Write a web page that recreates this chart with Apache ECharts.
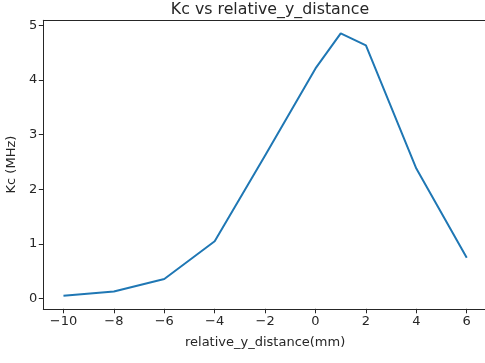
<!DOCTYPE html>
<html>
<head>
<meta charset="utf-8">
<script src="https://cdn.jsdelivr.net/npm/echarts@6/dist/echarts.min.js"></script>
<style>
  html, body { margin: 0; padding: 0; background: #fff; }
  #chart { width: 485px; height: 363px; }
</style>
</head>
<body>
<div id="chart"></div>
<script>
// Coupling Kc measured against relative y offset
const distances = [-10, -8, -6, -4, -2, 0, 1, 2, 4, 6];
const kcValues = [0.055, 0.13, 0.36, 1.05, 2.62, 4.21, 4.85, 4.63, 2.38, 0.75];
const xTicks = [-10, -8, -6, -4, -2, 0, 2, 4, 6];
const yTicks = [0, 1, 2, 3, 4, 5];

const font = 'DejaVu Sans';
const ink = '#262626';
const chart = echarts.init(document.getElementById('chart'), null, { renderer: 'canvas' });

const xRange = { min: -10.8, max: 6.8 };

chart.setOption({
  animation: false,
  backgroundColor: '#fff',
  title: {
    text: 'Kc vs relative_y_distance',
    left: 265,
    top: -3,
    textAlign: 'center',
    textStyle: { fontFamily: font, fontSize: 15.8, fontWeight: 'normal', color: ink }
  },
  grid: {
    left: 43.3, right: -1.9, top: 20.3, bottom: 54.2,
    containLabel: false,
    outerBoundsMode: 'none',
    show: false
  },
  xAxis: [{
    type: 'value',
    min: xRange.min, max: xRange.max,
    name: 'relative_y_distance(mm)',
    nameLocation: 'middle',
    nameGap: 27,
    nameTextStyle: { fontFamily: font, fontSize: 13, color: ink },
    axisLine: { show: true, onZero: false, lineStyle: { color: ink, width: 1 } },
    axisTick: { show: true, customValues: xTicks, length: 4.5, lineStyle: { color: ink } },
    axisLabel: {
      customValues: xTicks, fontFamily: font, fontSize: 13, color: ink, margin: 6,
      formatter: v => (v < 0 ? '\u2212' + Math.abs(v) : String(v))
    },
    splitLine: { show: false }
  }, {
    // top spine of the frame
    type: 'value',
    position: 'top',
    min: xRange.min, max: xRange.max,
    axisLine: { show: true, onZero: false, lineStyle: { color: ink, width: 1 } },
    axisTick: { show: false },
    axisLabel: { show: false },
    splitLine: { show: false }
  }],
  yAxis: {
    type: 'value',
    min: -0.185, max: 5.09,
    name: 'Kc (MHz)',
    nameLocation: 'middle',
    nameGap: 25,
    nameTextStyle: { fontFamily: font, fontSize: 13, color: ink },
    axisLine: { show: true, onZero: false, lineStyle: { color: ink, width: 1 } },
    axisTick: { show: true, customValues: yTicks, length: 4.5, lineStyle: { color: ink } },
    axisLabel: { customValues: yTicks, fontFamily: font, fontSize: 13, color: ink, margin: 6 },
    splitLine: { show: false }
  },
  series: [{
    type: 'line',
    xAxisIndex: 0,
    data: distances.map((d, i) => [d, kcValues[i]]),
    showSymbol: false,
    lineStyle: { color: '#1f77b4', width: 2 },
    itemStyle: { color: '#1f77b4' }
  }]
});
</script>
</body>
</html>
